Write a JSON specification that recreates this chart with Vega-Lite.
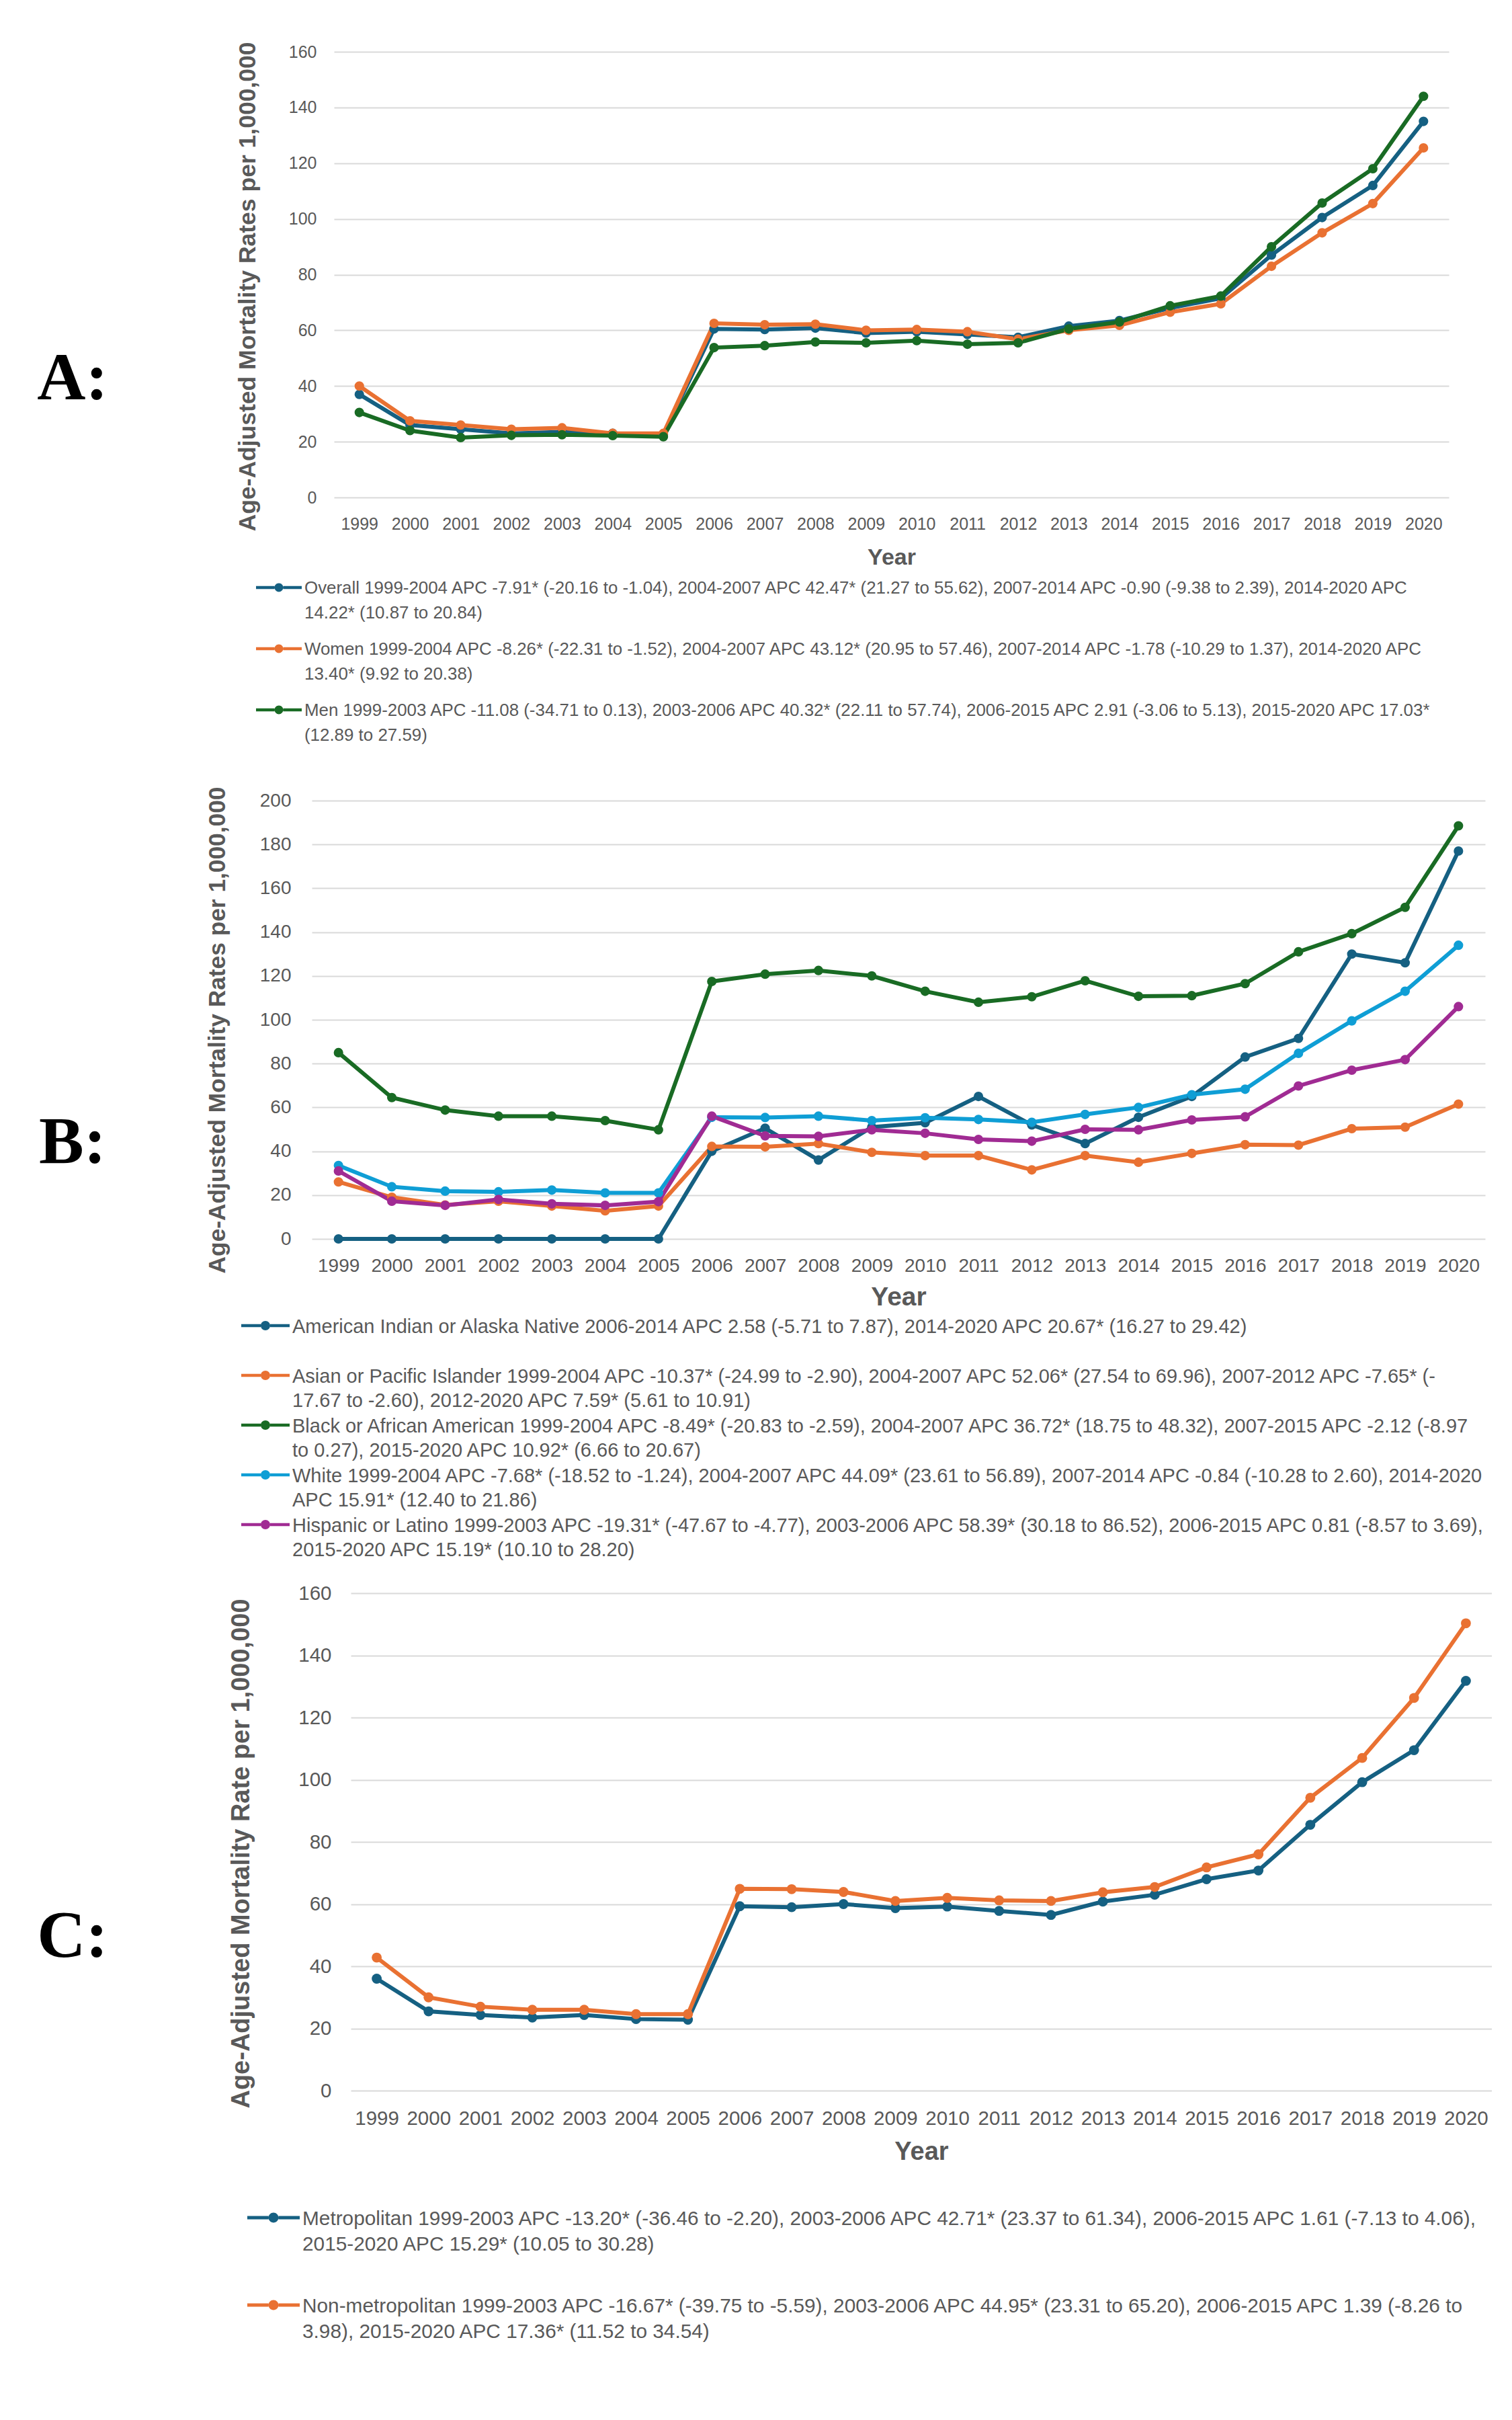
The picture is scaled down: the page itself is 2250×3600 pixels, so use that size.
{
"$schema": "https://vega.github.io/schema/vega-lite/v6.json",
"padding": {"left": 0, "top": 62, "right": 0, "bottom": 0},
"spacing": 33,
"resolve": {"scale": {"color": "independent"}, "legend": {"color": "independent"}},
"config": {
  "view": {"stroke": null},
  "axis": {"labelFont": "Liberation Sans", "titleFont": "Liberation Sans", "labelColor": "#595959", "titleColor": "#595959", "domain": false, "ticks": false, "tickSize": 0, "gridColor": "#D9D9D9", "gridWidth": 2, "titleFontWeight": "bold"},
  "legend": {"labelFont": "Liberation Sans", "labelColor": "#595959", "padding": 0}
},
"vconcat": [
{
  "spacing": 135,
  "resolve": {"scale": {"color": "independent"}, "legend": {"color": "independent"}},
  "hconcat": [
    {"width": 216, "height": 1060, "data": {"values": [{"panel": "A:"}]},
     "mark": {"type": "text", "font": "Liberation Serif", "fontWeight": "bold", "fontSize": 100, "dy": -43, "color": "#000000"},
     "encoding": {"text": {"field": "panel"}}},
    {"width": 1659, "height": 663,
     "data": {"values": [
{"year":1999,"series":"Overall","rate":37},{"year":2000,"series":"Overall","rate":26},{"year":2001,"series":"Overall","rate":24.5},{"year":2002,"series":"Overall","rate":23},{"year":2003,"series":"Overall","rate":23.5},{"year":2004,"series":"Overall","rate":23},{"year":2005,"series":"Overall","rate":22.5},{"year":2006,"series":"Overall","rate":60.5},{"year":2007,"series":"Overall","rate":60.3},{"year":2008,"series":"Overall","rate":60.8},{"year":2009,"series":"Overall","rate":59},{"year":2010,"series":"Overall","rate":59.5},{"year":2011,"series":"Overall","rate":58.5},{"year":2012,"series":"Overall","rate":57.5},{"year":2013,"series":"Overall","rate":61.5},{"year":2014,"series":"Overall","rate":63.5},{"year":2015,"series":"Overall","rate":68},{"year":2016,"series":"Overall","rate":71.5},{"year":2017,"series":"Overall","rate":87},{"year":2018,"series":"Overall","rate":100.5},{"year":2019,"series":"Overall","rate":112},{"year":2020,"series":"Overall","rate":135},
{"year":1999,"series":"Women","rate":40},{"year":2000,"series":"Women","rate":27.5},{"year":2001,"series":"Women","rate":26},{"year":2002,"series":"Women","rate":24.5},{"year":2003,"series":"Women","rate":25},{"year":2004,"series":"Women","rate":23},{"year":2005,"series":"Women","rate":23},{"year":2006,"series":"Women","rate":62.5},{"year":2007,"series":"Women","rate":62},{"year":2008,"series":"Women","rate":62.2},{"year":2009,"series":"Women","rate":60},{"year":2010,"series":"Women","rate":60.3},{"year":2011,"series":"Women","rate":59.5},{"year":2012,"series":"Women","rate":56.8},{"year":2013,"series":"Women","rate":60},{"year":2014,"series":"Women","rate":61.8},{"year":2015,"series":"Women","rate":66.5},{"year":2016,"series":"Women","rate":69.5},{"year":2017,"series":"Women","rate":83},{"year":2018,"series":"Women","rate":95},{"year":2019,"series":"Women","rate":105.5},{"year":2020,"series":"Women","rate":125.5},
{"year":1999,"series":"Men","rate":30.5},{"year":2000,"series":"Men","rate":24},{"year":2001,"series":"Men","rate":21.5},{"year":2002,"series":"Men","rate":22.3},{"year":2003,"series":"Men","rate":22.5},{"year":2004,"series":"Men","rate":22.2},{"year":2005,"series":"Men","rate":21.8},{"year":2006,"series":"Men","rate":53.8},{"year":2007,"series":"Men","rate":54.5},{"year":2008,"series":"Men","rate":55.8},{"year":2009,"series":"Men","rate":55.5},{"year":2010,"series":"Men","rate":56.3},{"year":2011,"series":"Men","rate":55},{"year":2012,"series":"Men","rate":55.5},{"year":2013,"series":"Men","rate":60.5},{"year":2014,"series":"Men","rate":63},{"year":2015,"series":"Men","rate":68.8},{"year":2016,"series":"Men","rate":72.3},{"year":2017,"series":"Men","rate":90},{"year":2018,"series":"Men","rate":105.7},{"year":2019,"series":"Men","rate":118},{"year":2020,"series":"Men","rate":144}
     ]},
     "encoding": {
       "x": {"field": "year", "type": "ordinal", "scale": {"type": "point", "padding": 0.5}, "axis": {"title": "Year", "labelAngle": 0, "labelFontSize": 25, "labelPadding": 27, "titleFontSize": 34, "titlePadding": 20, "grid": false}},
       "y": {"field": "rate", "type": "quantitative", "scale": {"domain": [0, 160]}, "axis": {"title": "Age-Adjusted Mortality Rates per 1,000,000", "values": [0,20,40,60,80,100,120,140,160], "labelFontSize": 25, "labelPadding": 26, "titleFontSize": 35.5, "titlePadding": 43, "titleY": 349}},
       "color": {"field": "series", "type": "nominal", "scale": {"domain": ["Overall","Women","Men"], "range": ["#156082","#E97132","#196B24"]},
          "legend": {"title": null, "orient": "none", "legendX": -116, "legendY": 763, "direction": "vertical",
            "symbolType": "M-1,-0.065L-0.19,-0.065L-0.19,0.065L-1,0.065Z M0.19,-0.065L1,-0.065L1,0.065L0.19,0.065Z M-0.19,0A0.19,0.19,0,1,1,0.19,0A0.19,0.19,0,1,1,-0.19,0Z",
            "symbolSize": 4624, "symbolStrokeWidth": 0, "symbolOpacity": 1,
            "labelFontSize": 25.9, "labelBaseline": "top", "labelLimit": 3000, "labelOffset": 4, "rowPadding": 6,
            "labelExpr": "datum.label == 'Overall' ? ['Overall 1999-2004 APC -7.91* (-20.16 to -1.04), 2004-2007 APC 42.47* (21.27 to 55.62), 2007-2014 APC -0.90 (-9.38 to 2.39), 2014-2020 APC', '14.22* (10.87 to 20.84)'] : datum.label == 'Women' ? ['Women 1999-2004 APC -8.26* (-22.31 to -1.52), 2004-2007 APC 43.12* (20.95 to 57.46), 2007-2014 APC -1.78 (-10.29 to 1.37), 2014-2020 APC', '13.40* (9.92 to 20.38)'] : ['Men 1999-2003 APC -11.08 (-34.71 to 0.13), 2003-2006 APC 40.32* (22.11 to 57.74), 2006-2015 APC 2.91 (-3.06 to 5.13), 2015-2020 APC 17.03*', '(12.89 to 27.59)']",
            "encoding": {"labels": {"lineHeight": {"value": 37}, "dy": {"value": -11}}}
          }}
     },
     "layer": [
       {"mark": {"type": "line", "strokeWidth": 6}},
       {"mark": {"type": "point", "filled": true, "size": 200, "opacity": 1}}
     ]
    }
  ]
},
{
  "spacing": 90,
  "resolve": {"scale": {"color": "independent"}, "legend": {"color": "independent"}},
  "hconcat": [
    {"width": 216, "height": 1018, "data": {"values": [{"panel": "B:"}]},
     "mark": {"type": "text", "font": "Liberation Serif", "fontWeight": "bold", "fontSize": 100, "color": "#000000"},
     "encoding": {"text": {"field": "panel"}}},
    {"width": 1746, "height": 652,
     "data": {"values": [
{"year":1999,"series":"American Indian or Alaska Native","rate":0},{"year":2000,"series":"American Indian or Alaska Native","rate":0},{"year":2001,"series":"American Indian or Alaska Native","rate":0},{"year":2002,"series":"American Indian or Alaska Native","rate":0},{"year":2003,"series":"American Indian or Alaska Native","rate":0},{"year":2004,"series":"American Indian or Alaska Native","rate":0},{"year":2005,"series":"American Indian or Alaska Native","rate":0},{"year":2006,"series":"American Indian or Alaska Native","rate":40},{"year":2007,"series":"American Indian or Alaska Native","rate":50.5},{"year":2008,"series":"American Indian or Alaska Native","rate":36},{"year":2009,"series":"American Indian or Alaska Native","rate":51},{"year":2010,"series":"American Indian or Alaska Native","rate":53},{"year":2011,"series":"American Indian or Alaska Native","rate":65},{"year":2012,"series":"American Indian or Alaska Native","rate":52},{"year":2013,"series":"American Indian or Alaska Native","rate":43.5},{"year":2014,"series":"American Indian or Alaska Native","rate":55.5},{"year":2015,"series":"American Indian or Alaska Native","rate":65},{"year":2016,"series":"American Indian or Alaska Native","rate":83},{"year":2017,"series":"American Indian or Alaska Native","rate":91.5},{"year":2018,"series":"American Indian or Alaska Native","rate":130},{"year":2019,"series":"American Indian or Alaska Native","rate":126},{"year":2020,"series":"American Indian or Alaska Native","rate":177},
{"year":1999,"series":"Asian or Pacific Islander","rate":26},{"year":2000,"series":"Asian or Pacific Islander","rate":19},{"year":2001,"series":"Asian or Pacific Islander","rate":15.5},{"year":2002,"series":"Asian or Pacific Islander","rate":17.2},{"year":2003,"series":"Asian or Pacific Islander","rate":15},{"year":2004,"series":"Asian or Pacific Islander","rate":12.8},{"year":2005,"series":"Asian or Pacific Islander","rate":15},{"year":2006,"series":"Asian or Pacific Islander","rate":42.2},{"year":2007,"series":"Asian or Pacific Islander","rate":42},{"year":2008,"series":"Asian or Pacific Islander","rate":43.5},{"year":2009,"series":"Asian or Pacific Islander","rate":39.5},{"year":2010,"series":"Asian or Pacific Islander","rate":38},{"year":2011,"series":"Asian or Pacific Islander","rate":38},{"year":2012,"series":"Asian or Pacific Islander","rate":31.5},{"year":2013,"series":"Asian or Pacific Islander","rate":38},{"year":2014,"series":"Asian or Pacific Islander","rate":35},{"year":2015,"series":"Asian or Pacific Islander","rate":39},{"year":2016,"series":"Asian or Pacific Islander","rate":43},{"year":2017,"series":"Asian or Pacific Islander","rate":42.8},{"year":2018,"series":"Asian or Pacific Islander","rate":50.3},{"year":2019,"series":"Asian or Pacific Islander","rate":51},{"year":2020,"series":"Asian or Pacific Islander","rate":61.5},
{"year":1999,"series":"Black or African American","rate":85},{"year":2000,"series":"Black or African American","rate":64.5},{"year":2001,"series":"Black or African American","rate":58.8},{"year":2002,"series":"Black or African American","rate":56},{"year":2003,"series":"Black or African American","rate":56},{"year":2004,"series":"Black or African American","rate":54},{"year":2005,"series":"Black or African American","rate":49.8},{"year":2006,"series":"Black or African American","rate":117.5},{"year":2007,"series":"Black or African American","rate":120.8},{"year":2008,"series":"Black or African American","rate":122.5},{"year":2009,"series":"Black or African American","rate":120},{"year":2010,"series":"Black or African American","rate":113},{"year":2011,"series":"Black or African American","rate":108},{"year":2012,"series":"Black or African American","rate":110.5},{"year":2013,"series":"Black or African American","rate":117.8},{"year":2014,"series":"Black or African American","rate":110.7},{"year":2015,"series":"Black or African American","rate":111},{"year":2016,"series":"Black or African American","rate":116.5},{"year":2017,"series":"Black or African American","rate":131},{"year":2018,"series":"Black or African American","rate":139.3},{"year":2019,"series":"Black or African American","rate":151.3},{"year":2020,"series":"Black or African American","rate":188.5},
{"year":1999,"series":"White","rate":33.5},{"year":2000,"series":"White","rate":23.8},{"year":2001,"series":"White","rate":21.8},{"year":2002,"series":"White","rate":21.5},{"year":2003,"series":"White","rate":22.3},{"year":2004,"series":"White","rate":21},{"year":2005,"series":"White","rate":21},{"year":2006,"series":"White","rate":55.5},{"year":2007,"series":"White","rate":55.4},{"year":2008,"series":"White","rate":56},{"year":2009,"series":"White","rate":54},{"year":2010,"series":"White","rate":55.3},{"year":2011,"series":"White","rate":54.5},{"year":2012,"series":"White","rate":53.2},{"year":2013,"series":"White","rate":56.8},{"year":2014,"series":"White","rate":60},{"year":2015,"series":"White","rate":65.8},{"year":2016,"series":"White","rate":68.3},{"year":2017,"series":"White","rate":84.7},{"year":2018,"series":"White","rate":99.5},{"year":2019,"series":"White","rate":113},{"year":2020,"series":"White","rate":134},
{"year":1999,"series":"Hispanic or Latino","rate":31},{"year":2000,"series":"Hispanic or Latino","rate":17.2},{"year":2001,"series":"Hispanic or Latino","rate":15.3},{"year":2002,"series":"Hispanic or Latino","rate":18},{"year":2003,"series":"Hispanic or Latino","rate":16},{"year":2004,"series":"Hispanic or Latino","rate":15.3},{"year":2005,"series":"Hispanic or Latino","rate":17},{"year":2006,"series":"Hispanic or Latino","rate":56},{"year":2007,"series":"Hispanic or Latino","rate":47},{"year":2008,"series":"Hispanic or Latino","rate":46.8},{"year":2009,"series":"Hispanic or Latino","rate":49.8},{"year":2010,"series":"Hispanic or Latino","rate":48.2},{"year":2011,"series":"Hispanic or Latino","rate":45.4},{"year":2012,"series":"Hispanic or Latino","rate":44.6},{"year":2013,"series":"Hispanic or Latino","rate":50},{"year":2014,"series":"Hispanic or Latino","rate":49.8},{"year":2015,"series":"Hispanic or Latino","rate":54.3},{"year":2016,"series":"Hispanic or Latino","rate":55.7},{"year":2017,"series":"Hispanic or Latino","rate":69.8},{"year":2018,"series":"Hispanic or Latino","rate":77},{"year":2019,"series":"Hispanic or Latino","rate":81.8},{"year":2020,"series":"Hispanic or Latino","rate":106}
     ]},
     "encoding": {
       "x": {"field": "year", "type": "ordinal", "scale": {"type": "point", "padding": 0.5}, "axis": {"title": "Year", "labelAngle": 0, "labelFontSize": 28, "labelPadding": 26, "titleFontSize": 39, "titlePadding": 13, "grid": false}},
       "y": {"field": "rate", "type": "quantitative", "scale": {"domain": [0, 200]}, "axis": {"title": "Age-Adjusted Mortality Rates per 1,000,000", "values": [0,20,40,60,80,100,120,140,160,180,200], "labelFontSize": 28, "labelPadding": 31, "titleFontSize": 35.3, "titlePadding": 45, "titleY": 341}},
       "color": {"field": "series", "type": "nominal", "scale": {"domain": ["American Indian or Alaska Native","Asian or Pacific Islander","Black or African American","White","Hispanic or Latino"], "range": ["#156082","#E97132","#196B24","#0F9ED5","#A02B93"]},
          "legend": {"title": null, "orient": "none", "legendX": -105, "legendY": 761, "direction": "vertical",
            "symbolType": "M-1,-0.115L0.45,-0.115L0.45,0.115L-1,0.115Z M1.15,-0.115L2.6,-0.115L2.6,0.115L1.15,0.115Z M0.45,0A0.35,0.35,0,1,1,1.15,0A0.35,0.35,0,1,1,0.45,0Z",
            "symbolSize": 1600, "symbolStrokeWidth": 0, "symbolOpacity": 1,
            "labelFontSize": 29, "labelBaseline": "top", "labelLimit": 3000, "labelOffset": 36, "rowPadding": 0,
            "labelExpr": "datum.label == 'American Indian or Alaska Native' ? ['American Indian or Alaska Native 2006-2014 APC 2.58 (-5.71 to 7.87), 2014-2020 APC 20.67* (16.27 to 29.42)', ' '] : datum.label == 'Asian or Pacific Islander' ? ['Asian or Pacific Islander 1999-2004 APC -10.37* (-24.99 to -2.90), 2004-2007 APC 52.06* (27.54 to 69.96), 2007-2012 APC -7.65* (-', '17.67 to -2.60), 2012-2020 APC 7.59* (5.61 to 10.91)'] : datum.label == 'Black or African American' ? ['Black or African American 1999-2004 APC -8.49* (-20.83 to -2.59), 2004-2007 APC 36.72* (18.75 to 48.32), 2007-2015 APC -2.12 (-8.97', 'to 0.27), 2015-2020 APC 10.92* (6.66 to 20.67)'] : datum.label == 'White' ? ['White 1999-2004 APC -7.68* (-18.52 to -1.24), 2004-2007 APC 44.09* (23.61 to 56.89), 2007-2014 APC -0.84 (-10.28 to 2.60), 2014-2020', 'APC 15.91* (12.40 to 21.86)'] : ['Hispanic or Latino 1999-2003 APC -19.31* (-47.67 to -4.77), 2003-2006 APC 58.39* (30.18 to 86.52), 2006-2015 APC 0.81 (-8.57 to 3.69),', '2015-2020 APC 15.19* (10.10 to 28.20)']",
            "encoding": {"labels": {"lineHeight": {"value": 36.7}, "dy": {"value": -12.3}}}
          }}
     },
     "layer": [
       {"mark": {"type": "line", "strokeWidth": 6}},
       {"mark": {"type": "point", "filled": true, "size": 200, "opacity": 1}}
     ]
    }
  ]
},
{
  "spacing": 124,
  "resolve": {"scale": {"color": "independent"}, "legend": {"color": "independent"}},
  "hconcat": [
    {"width": 216, "height": 1022, "data": {"values": [{"panel": "C:"}]},
     "mark": {"type": "text", "font": "Liberation Serif", "fontWeight": "bold", "fontSize": 100, "color": "#000000"},
     "encoding": {"text": {"field": "panel"}}},
    {"width": 1698, "height": 740,
     "data": {"values": [
{"year":1999,"series":"Metropolitan","rate":36},{"year":2000,"series":"Metropolitan","rate":25.5},{"year":2001,"series":"Metropolitan","rate":24.3},{"year":2002,"series":"Metropolitan","rate":23.5},{"year":2003,"series":"Metropolitan","rate":24.3},{"year":2004,"series":"Metropolitan","rate":23},{"year":2005,"series":"Metropolitan","rate":22.8},{"year":2006,"series":"Metropolitan","rate":59.3},{"year":2007,"series":"Metropolitan","rate":59},{"year":2008,"series":"Metropolitan","rate":60},{"year":2009,"series":"Metropolitan","rate":58.7},{"year":2010,"series":"Metropolitan","rate":59.2},{"year":2011,"series":"Metropolitan","rate":57.8},{"year":2012,"series":"Metropolitan","rate":56.5},{"year":2013,"series":"Metropolitan","rate":60.8},{"year":2014,"series":"Metropolitan","rate":63},{"year":2015,"series":"Metropolitan","rate":68},{"year":2016,"series":"Metropolitan","rate":70.8},{"year":2017,"series":"Metropolitan","rate":85.5},{"year":2018,"series":"Metropolitan","rate":99.2},{"year":2019,"series":"Metropolitan","rate":109.5},{"year":2020,"series":"Metropolitan","rate":131.8},
{"year":1999,"series":"Non-metropolitan","rate":42.8},{"year":2000,"series":"Non-metropolitan","rate":30},{"year":2001,"series":"Non-metropolitan","rate":27},{"year":2002,"series":"Non-metropolitan","rate":26},{"year":2003,"series":"Non-metropolitan","rate":26},{"year":2004,"series":"Non-metropolitan","rate":24.6},{"year":2005,"series":"Non-metropolitan","rate":24.6},{"year":2006,"series":"Non-metropolitan","rate":64.9},{"year":2007,"series":"Non-metropolitan","rate":64.8},{"year":2008,"series":"Non-metropolitan","rate":63.9},{"year":2009,"series":"Non-metropolitan","rate":61},{"year":2010,"series":"Non-metropolitan","rate":62},{"year":2011,"series":"Non-metropolitan","rate":61.2},{"year":2012,"series":"Non-metropolitan","rate":61},{"year":2013,"series":"Non-metropolitan","rate":63.8},{"year":2014,"series":"Non-metropolitan","rate":65.5},{"year":2015,"series":"Non-metropolitan","rate":71.8},{"year":2016,"series":"Non-metropolitan","rate":76},{"year":2017,"series":"Non-metropolitan","rate":94.2},{"year":2018,"series":"Non-metropolitan","rate":107},{"year":2019,"series":"Non-metropolitan","rate":126.3},{"year":2020,"series":"Non-metropolitan","rate":150.3}
     ]},
     "encoding": {
       "x": {"field": "year", "type": "ordinal", "scale": {"type": "point", "padding": 0.5}, "axis": {"title": "Year", "labelAngle": 0, "labelFontSize": 29.5, "labelPadding": 27, "titleFontSize": 38, "titlePadding": 17, "grid": false}},
       "y": {"field": "rate", "type": "quantitative", "scale": {"domain": [0, 160]}, "axis": {"title": "Age-Adjusted Mortality Rate per 1,000,000", "values": [0,20,40,60,80,100,120,140,160], "labelFontSize": 29.5, "labelPadding": 29, "titleFontSize": 38, "titlePadding": 65, "titleY": 387}},
       "color": {"field": "series", "type": "nominal", "scale": {"domain": ["Metropolitan","Non-metropolitan"], "range": ["#156082","#E97132"]},
          "legend": {"title": null, "orient": "none", "legendX": -154, "legendY": 890, "direction": "vertical",
            "symbolType": "M-1,-0.065L-0.19,-0.065L-0.19,0.065L-1,0.065Z M0.19,-0.065L1,-0.065L1,0.065L0.19,0.065Z M-0.19,0A0.19,0.19,0,1,1,0.19,0A0.19,0.19,0,1,1,-0.19,0Z",
            "symbolSize": 6084, "symbolStrokeWidth": 0, "symbolOpacity": 1,
            "labelFontSize": 29.8, "labelBaseline": "top", "labelLimit": 3000, "labelOffset": 4, "rowPadding": 36,
            "labelExpr": "datum.label == 'Metropolitan' ? ['Metropolitan 1999-2003 APC -13.20* (-36.46 to -2.20), 2003-2006 APC 42.71* (23.37 to 61.34), 2006-2015 APC 1.61 (-7.13 to 4.06),', '2015-2020 APC 15.29* (10.05 to 30.28)'] : ['Non-metropolitan 1999-2003 APC -16.67* (-39.75 to -5.59), 2003-2006 APC 44.95* (23.31 to 65.20), 2006-2015 APC 1.39 (-8.26 to', '3.98), 2015-2020 APC 17.36* (11.52 to 34.54)']",
            "encoding": {"labels": {"lineHeight": {"value": 38}, "dy": {"value": -12.8}}}
          }}
     },
     "layer": [
       {"mark": {"type": "line", "strokeWidth": 6}},
       {"mark": {"type": "point", "filled": true, "size": 220, "opacity": 1}}
     ]
    }
  ]
}
]
}
